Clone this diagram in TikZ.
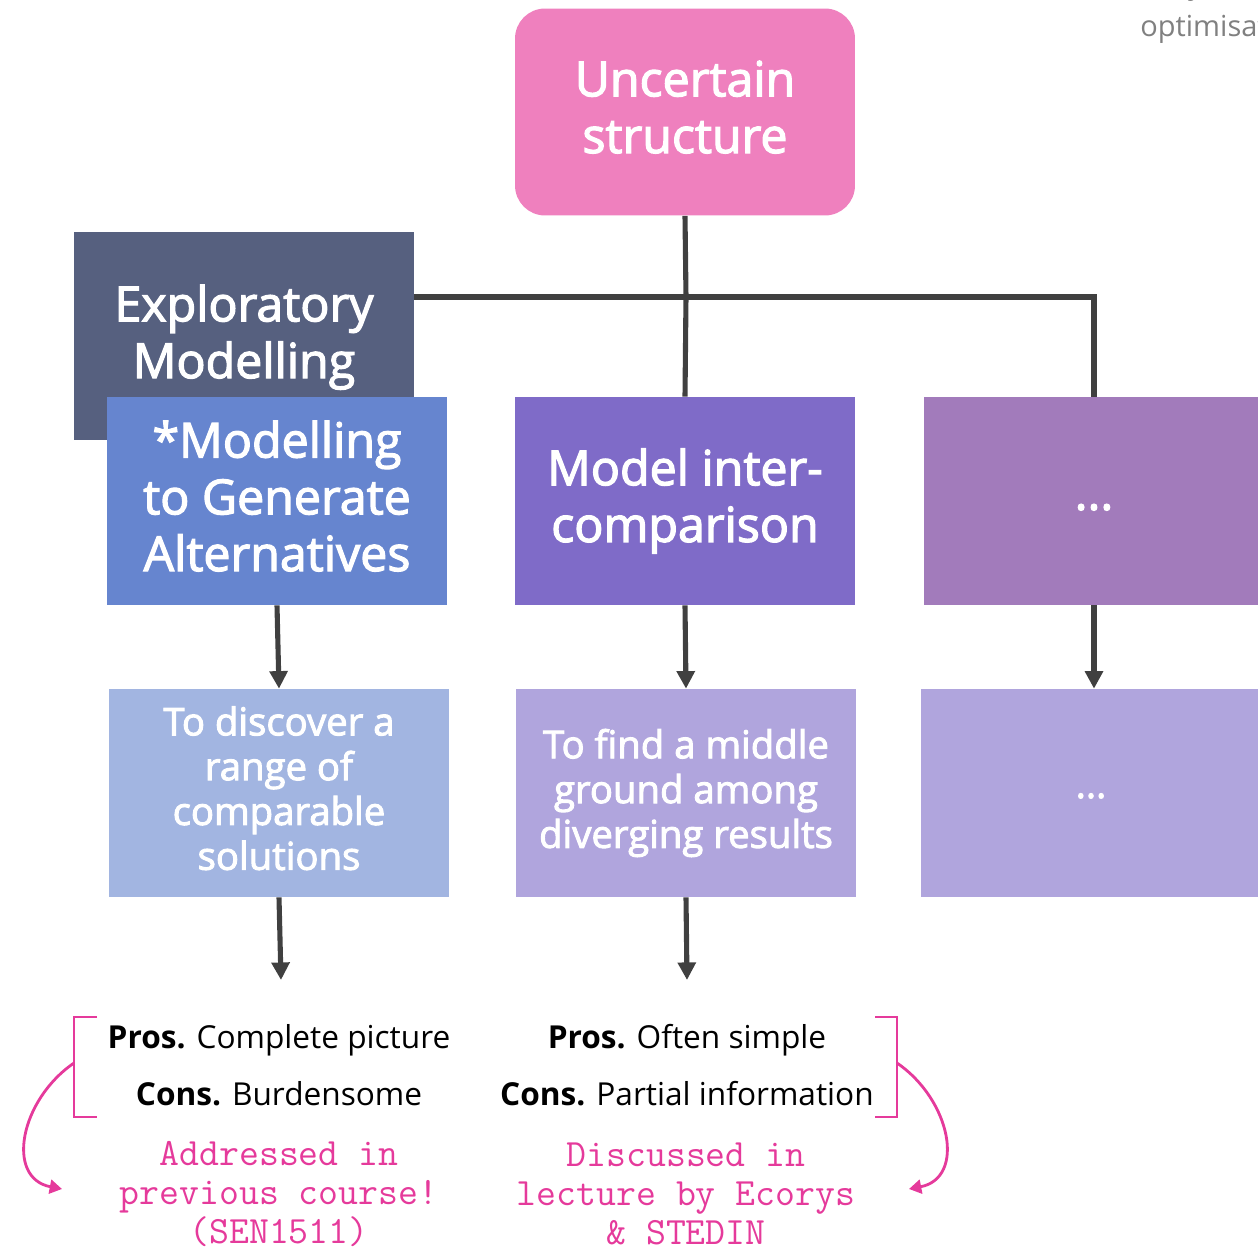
\documentclass[tikz,border=0pt]{standalone}
\usepackage{fontspec}
\setmainfont{Open Sans}
\newfontfamily\boxfont[FakeBold=2.5]{Open Sans}
\usetikzlibrary{arrows.meta}

\definecolor{topPink}{HTML}{EF80BE}
\definecolor{slateBlue}{HTML}{56607F}
\definecolor{mgaBlue}{HTML}{6685CF}
\definecolor{micPurple}{HTML}{7F6BC8}
\definecolor{morePurple}{HTML}{A27BBB}
\definecolor{mgaLight}{HTML}{A2B5E1}
\definecolor{micLight}{HTML}{B0A5DD}
\definecolor{lineGray}{HTML}{404040}
\definecolor{notePink}{HTML}{E53A9B}
\definecolor{sideGray}{HTML}{808080}

\begin{document}
\begin{tikzpicture}[x = 0.02cm, y = -0.02cm]
\tikzstyle{boxStyle} = [minimum width = 6.8cm, minimum height = 4.16cm, inner sep = 0pt, align = center, text = white]
\tikzstyle{topStyle} = [boxStyle, font = \boxfont\fontsize{27.5}{32.3}\selectfont]
\tikzstyle{lowStyle} = [boxStyle, font = \boxfont\fontsize{21.8}{25.5}\selectfont]
\tikzstyle{connStyle} = [draw = lineGray, line width = 2.9pt]
\tikzstyle{arrowStyle} = [connStyle, -{Triangle[width = 10pt, length = 10pt]}]
\tikzstyle{prosStyle} = [font = \fontsize{18}{22}\selectfont, inner sep = 0pt]
\tikzstyle{noteStyle} = [text = notePink, align = center, font = \ttfamily\fontsize{22}{22.3}\selectfont]
\tikzstyle{bracketStyle} = [draw = notePink, line width = 1.6pt]
\tikzstyle{curlStyle} = [bracketStyle, -{Triangle[width = 8pt, length = 7pt]}]
\useasboundingbox (0,0) rectangle (1258,1250);
\clip (0,0) rectangle (1258,1250);
% side note, cut by the page edge
\node[anchor = north west, text = sideGray, align = left, inner sep = 0pt,
  font = \fontsize{16.5}{24}\selectfont] (side) at (1140,-28) {Only\\optimisation};
% top level
\node[topStyle, fill = topPink, rounded corners = 0.6cm, minimum height = 4.14cm] (uncertain) at (685,112) {Uncertain\\structure\\[-26.5pt]};
\node[topStyle, fill = slateBlue] (explore) at (244,336) {Exploratory\\Modelling\\[-27pt]};
\node[topStyle, fill = mgaBlue] (mga) at (277,501) {*Modelling\\to Generate\\Alternatives\\[-26.5pt]};
\node[topStyle, fill = micPurple] (mic) at (685,501) {Model inter-\\comparison};
\node[topStyle, fill = morePurple] (more) at (1094,501) {\raisebox{-5pt}[0pt][0pt]{...}};
% purposes
\node[lowStyle, fill = mgaLight] (mgaAim) at (279,793) {To discover a\\range of\\comparable\\solutions\\[-19.8pt]};
\node[lowStyle, fill = micLight] (micAim) at (686,793) {To find a middle\\ground among\\diverging results};
\node[lowStyle, fill = micLight] (moreAim) at (1091,793) {\raisebox{-2.8pt}[0pt][0pt]{...}};
% tree connectors
\coordinate (hub) at (686,297);
\coordinate (mgaEnd) at (281,980);
\coordinate (micEnd) at (687,980);
\draw[connStyle] (uncertain.south) -- (hub);
\draw[connStyle] (explore.east |- hub) -- (hub) -| (more.north);
\draw[connStyle] (hub) -- (mic.north);
\draw[arrowStyle] (mga.south) -- (mgaAim.north);
\draw[arrowStyle] (mic.south) -- (micAim.north);
\draw[arrowStyle] (more.south) -- (more.south |- moreAim.north);
\draw[arrowStyle] (mgaAim.south) -- (mgaEnd);
\draw[arrowStyle] (micAim.south) -- (micEnd);
% pros and cons
\node[prosStyle] (mgaPros) at (279,1040) {\textbf{Pros.} Complete picture};
\node[prosStyle] (mgaCons) at (279,1094) {\textbf{Cons.} Burdensome};
\node[prosStyle] (micPros) at (687,1040) {\textbf{Pros.} Often simple};
\node[prosStyle] (micCons) at (687,1094) {\textbf{Cons.} Partial information};
% brackets and notes
\draw[bracketStyle] (97,1017) -- (74,1017) -- (74,1117) -- (97,1117);
\draw[bracketStyle] (875,1017) -- (897,1017) -- (897,1117) -- (875,1117);
\draw[curlStyle] (74,1063) .. controls (20,1100) and (5,1178) .. (62,1189);
\draw[curlStyle] (897,1063) .. controls (951,1100) and (966,1178) .. (909,1189);
\node[noteStyle] (mgaNote) at (279,1194) {Addressed in\\previous course!\\(SEN1511)};
\node[noteStyle] (micNote) at (686,1194) {Discussed in\\lecture by Ecorys\\\& STEDIN};
\end{tikzpicture}
\end{document}
